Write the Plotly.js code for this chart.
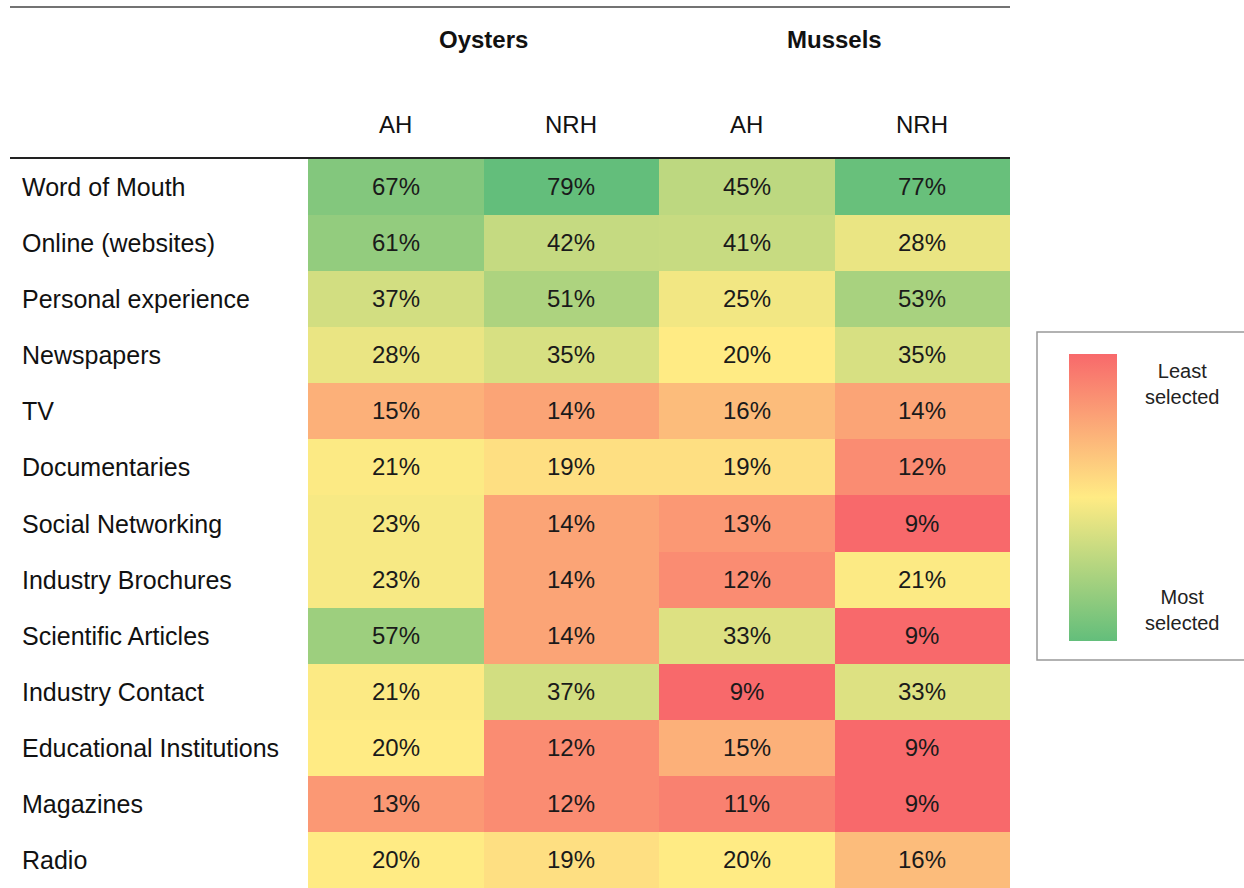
<!DOCTYPE html>
<html>
<head>
<meta charset="utf-8">
<script src="https://cdn.plot.ly/plotly-3.0.1.min.js"></script>
<style>html,body{margin:0;padding:0;background:#fff;}#chart{width:1244px;height:888px;}</style>
</head>
<body>
<div id="chart"></div>
<script>
const sources = ["Word of Mouth","Online (websites)","Personal experience","Newspapers","TV","Documentaries","Social Networking","Industry Brochures","Scientific Articles","Industry Contact","Educational Institutions","Magazines","Radio"];
const groups = ["Oysters","Mussels"];
const subLabels = ["AH","NRH","AH","NRH"];
const oystersAH  = [67,61,37,28,15,21,23,23,57,21,20,13,20];
const oystersNRH = [79,42,51,35,14,19,14,14,14,37,12,12,19];
const musselsAH  = [45,41,25,20,16,19,13,12,33,9,15,11,20];
const musselsNRH = [77,28,53,35,14,12,9,21,9,33,9,9,16];
const legendTop = "Least<br>selected";
const legendBottom = "Most<br>selected";

const W = 1244, H = 888;
const px = x => x / W;
const py = y => 1 - y / H;

const cols = [oystersAH, oystersNRH, musselsAH, musselsNRH];
const z = sources.map((s, i) => cols.map(c => c[i]));
const all = cols.flat().slice().sort((a, b) => a - b);
const zmin = all[0], zmax = all[all.length - 1];
const mid = all.length % 2 ? all[(all.length - 1) / 2] : (all[all.length / 2 - 1] + all[all.length / 2]) / 2;
const RED = '#F8696B', YEL = '#FFEB84', GRN = '#63BE7B';
const midPos = (mid - zmin) / (zmax - zmin);

const font = 'Liberation Sans, Arial, Helvetica, sans-serif';

const heat = {
  type: 'heatmap',
  z: z,
  x: [0, 1, 2, 3],
  y: sources.map((s, i) => i),
  zmin: zmin, zmax: zmax,
  colorscale: [[0, RED], [midPos, YEL], [1, GRN]],
  showscale: false,
  texttemplate: '%{z}%',
  textfont: {family: font, size: 24, color: '#1a1a1a'},
  hoverinfo: 'skip'
};

const legendTrace = {
  type: 'scatter', mode: 'markers',
  x: [null], y: [null],
  hoverinfo: 'skip', showlegend: false,
  marker: {
    color: [0], cmin: 0, cmax: 1,
    colorscale: [[0, GRN], [0.5, YEL], [1, RED]],
    showscale: true,
    colorbar: {
      x: px(1069), xanchor: 'left', xpad: 0, ypad: 0,
      y: py(354), yanchor: 'top',
      len: (641 - 354) / H, lenmode: 'fraction',
      thickness: 48, thicknessmode: 'pixels',
      showticklabels: false, ticks: '', outlinewidth: 0
    }
  }
};

const annotations = [];
sources.forEach((s, i) => annotations.push({
  text: s, xref: 'paper', x: px(20), xanchor: 'left', yref: 'y', y: i, yanchor: 'middle',
  showarrow: false, font: {family: font, size: 25, color: '#111'}
}));
groups.forEach((g, k) => annotations.push({
  text: '<b>' + g + '</b>', xref: 'x', x: k * 2 + 0.5, yref: 'paper', y: py(40), yanchor: 'middle',
  showarrow: false, font: {family: font, size: 24, color: '#111'}
}));
subLabels.forEach((t, k) => annotations.push({
  text: t, xref: 'x', x: k, yref: 'paper', y: py(125), yanchor: 'middle',
  showarrow: false, font: {family: font, size: 24, color: '#111'}
}));
annotations.push({text: legendTop, xref: 'paper', x: px(1182), xanchor: 'center', yref: 'paper', y: py(384), yanchor: 'middle',
  showarrow: false, align: 'center', font: {family: font, size: 20, color: '#222'}});
annotations.push({text: legendBottom, xref: 'paper', x: px(1182), xanchor: 'center', yref: 'paper', y: py(610), yanchor: 'middle',
  showarrow: false, align: 'center', font: {family: font, size: 20, color: '#222'}});

const shapes = [
  {type: 'line', xref: 'paper', yref: 'paper', x0: px(10), x1: px(1010), y0: py(7), y1: py(7), line: {color: '#444', width: 1.5}},
  {type: 'line', xref: 'paper', yref: 'paper', x0: px(10), x1: px(1010), y0: py(158), y1: py(158), line: {color: '#222', width: 2}},
  {type: 'rect', xref: 'paper', yref: 'paper', x0: px(1037), x1: px(1260), y0: py(660), y1: py(332), line: {color: '#999', width: 1.5}}
];

const layout = {
  width: W, height: H,
  margin: {l: 0, r: 0, t: 0, b: 0},
  paper_bgcolor: '#fff', plot_bgcolor: '#fff',
  showlegend: false,
  xaxis: {domain: [px(308), px(1010)], range: [-0.5, 3.5], visible: false, fixedrange: true},
  yaxis: {domain: [0, 1 - 159 / H], range: [12.5, -0.5], visible: false, fixedrange: true},
  annotations: annotations,
  shapes: shapes,
  font: {family: font}
};

Plotly.newPlot('chart', [heat, legendTrace], layout, {displayModeBar: false, staticPlot: true});
</script>
</body>
</html>
